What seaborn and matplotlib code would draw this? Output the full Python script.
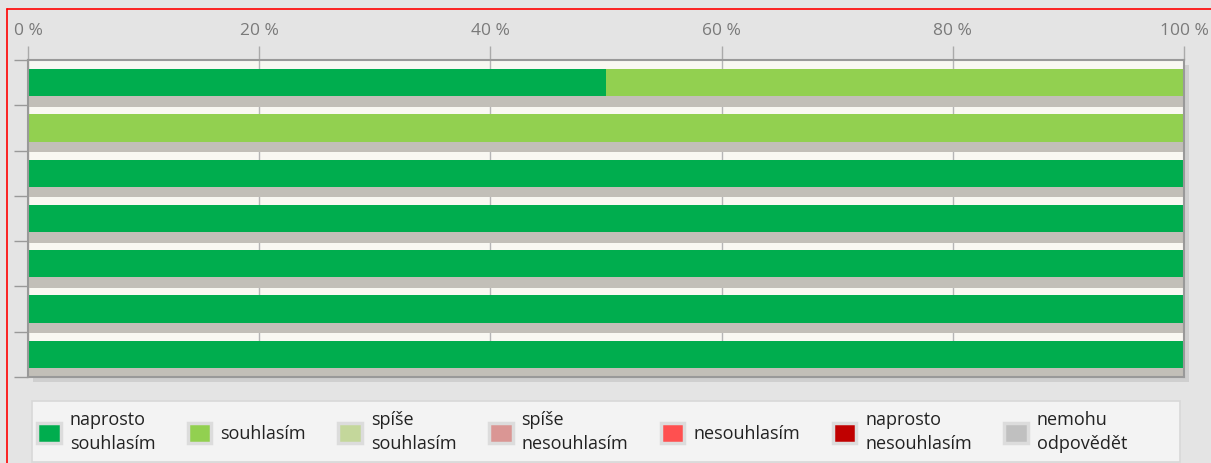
import numpy as np
import pandas as pd
import seaborn as sns
import matplotlib
matplotlib.use("Agg")
import matplotlib.pyplot as plt
import matplotlib.patches as mpatches
import matplotlib.patheffects as pe
from matplotlib.lines import Line2D

# ---- data ----
rows = ["1", "2", "3", "4", "5", "6", "7"]
categories = ["naprosto\nsouhlasím", "souhlasím", "spíše\nsouhlasím", "spíše\nnesouhlasím",
              "nesouhlasím", "naprosto\nnesouhlasím", "nemohu\nodpovědět"]
colors = ["#00ad4e", "#92d050", "#c4d79b", "#da9694", "#ff5050", "#c00000", "#c0c0c0"]
naprosto_souhlasim = [50, 0, 100, 100, 100, 100, 100]
souhlasim = [50, 100, 0, 0, 0, 0, 0]
spise_souhlasim = [0, 0, 0, 0, 0, 0, 0]
spise_nesouhlasim = [0, 0, 0, 0, 0, 0, 0]
nesouhlasim = [0, 0, 0, 0, 0, 0, 0]
naprosto_nesouhlasim = [0, 0, 0, 0, 0, 0, 0]
nemohu_odpovedet = [0, 0, 0, 0, 0, 0, 0]
tick_values = [0, 20, 40, 60, 80, 100]
tick_labels = ["0 %", "20 %", "40 %", "60 %", "80 %", "100 %"]

series = [naprosto_souhlasim, souhlasim, spise_souhlasim, spise_nesouhlasim,
          nesouhlasim, naprosto_nesouhlasim, nemohu_odpovedet]

sns.set_style("white")
plt.rcParams["font.family"] = ["Open Sans", "DejaVu Sans"]

W, H = 1211, 463
fig = plt.figure(figsize=(W / 100, H / 100), dpi=100)
fig.patch.set_facecolor("#e4e4e4")
ax_rect = [28 / W, 1 - 377 / H, (1184 - 28) / W, (377 - 60) / H]
ax = fig.add_axes(ax_rect)
ax.set_facecolor("#f9f8f2")

# soft shadow behind the plot frame
fig.add_artist(mpatches.Rectangle((ax_rect[0] + 5 / W, ax_rect[1] - 5 / H), ax_rect[2], ax_rect[3],
                                  transform=fig.transFigure, facecolor="#cfcfcf",
                                  edgecolor="none", zorder=-1))

# stacked bars via cumulative sums, drawn in reverse so earlier categories overlay
vals = np.array(series, dtype=float)
cum = np.cumsum(vals, axis=0)
shadow = [pe.SimplePatchShadow(offset=(0, -7.5), shadow_rgbFace="#c2bfb8", alpha=1.0), pe.Normal()]
for i in range(len(categories) - 1, -1, -1):
    df = pd.DataFrame({"row": rows, "value": cum[i]})
    sns.barplot(data=df, x="value", y="row", orient="h", color=colors[i],
                saturation=1, width=0.6, ax=ax, edgecolor="none", linewidth=0)
    if i == len(categories) - 1:
        for p in ax.patches[-len(rows):]:
            p.set_path_effects(shadow)

ax.set_xlim(0, 100)
ax.set_ylim(len(rows) - 0.5, -0.5)
ax.set_xlabel("")
ax.set_ylabel("")

ax.xaxis.tick_top()
ax.set_xticks(tick_values)
ax.set_xticklabels(tick_labels)
ax.tick_params(axis="x", length=10, width=1, color="#aaaaaa", labelcolor="#7a7a7a",
               labelsize=12.5, pad=5, top=True, bottom=False)
ax.set_yticks(np.arange(-0.5, len(rows) + 0.5, 1))
ax.set_yticklabels([])
ax.tick_params(axis="y", length=10, width=1, color="#999999", left=True)
ax.grid(axis="x", color="#b5b5b5", linewidth=1)
ax.set_axisbelow(True)
for s in ax.spines.values():
    s.set_color("#999999")
    s.set_linewidth(1.5)

# legend frame
fig.add_artist(mpatches.Rectangle((32 / W, 1 / H), (1180 - 32) / W, 61 / H,
                                  transform=fig.transFigure, facecolor="#f3f3f3",
                                  edgecolor="#d8d8d8", linewidth=1.2, zorder=1))
handles = [mpatches.Patch(facecolor=c, edgecolor="#dcdcdc", linewidth=2.5) for c in colors]
leg = fig.legend(handles, categories, loc="center left",
                 bbox_to_anchor=(30 / W, 1 - 432 / H), ncol=7, frameon=False,
                 fontsize=13, handlelength=1.3, handleheight=1.3, handletextpad=0.5,
                 columnspacing=1.8, borderaxespad=0, labelspacing=0.2)
leg.set_zorder(2)
for t in leg.get_texts():
    t.set_color("#222222")
    t.set_linespacing(1.45)

# red frame lines
fig.add_artist(Line2D([6.5 / W, 6.5 / W], [0, 1 - 9 / H], color="red", linewidth=1.2, transform=fig.transFigure))
fig.add_artist(Line2D([6.5 / W, 1], [1 - 9 / H, 1 - 9 / H], color="red", linewidth=1.2, transform=fig.transFigure))

fig.savefig("out.png", dpi=100, facecolor=fig.get_facecolor())
